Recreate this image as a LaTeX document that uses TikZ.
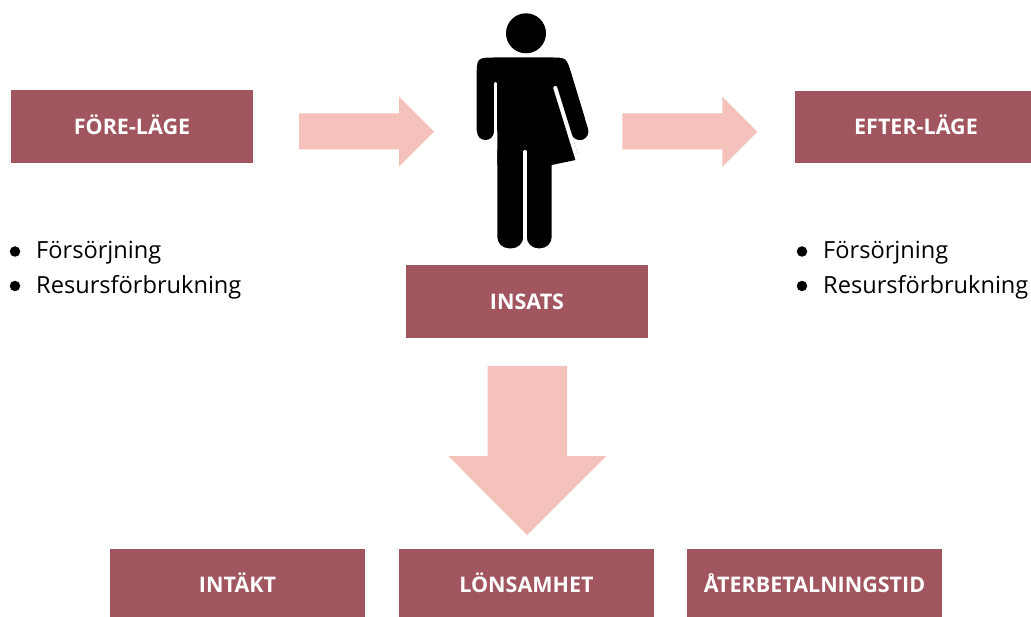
\documentclass[tikz,border=0pt]{standalone}
\usepackage{fontspec}
\setmainfont{Open Sans}
\definecolor{boxred}{RGB}{161,85,94}
\definecolor{arrowpink}{RGB}{245,193,187}
\begin{document}
\begin{tikzpicture}[x=1pt,y=-1pt,
  box/.style={fill=boxred, draw=none, inner sep=0pt, text=white,
    font=\bfseries\fontsize{21.5}{26}\selectfont, text height=15.3pt, text depth=0pt},
  bigarrow/.style={fill=arrowpink, draw=none},
  bullettext/.style={anchor=base west, inner sep=0pt, font=\fontsize{23.6}{28}\selectfont},
  dot/.style={circle, fill=black, draw=none, inner sep=0pt, minimum size=10.5pt},
  figfill/.style={fill=black},
  limb/.style={draw=black, line width=17.3pt, line cap=round},
  gap/.style={draw=white, line cap=round}]
\useasboundingbox (0,0) rectangle (1031,617);
\clip (0,0) rectangle (1031,617);

% boxes
\node[box, minimum width=242pt, minimum height=72.5pt] (fore) at (132,126.5) {FÖRE-LÄGE};
\node[box, minimum width=242pt, minimum height=72.5pt] (efter) at (916,127.2) {EFTER-LÄGE};
\node[box, minimum width=242pt, minimum height=72.5pt] (insats) at (527,301.4) {INSATS};
\node[box, minimum width=255pt, minimum height=72.5pt] (intakt) at (237.5,585.25) {INTÄKT};
\node[box, minimum width=255pt, minimum height=72.5pt] (lons) at (526.5,585.25) {LÖNSAMHET};
\node[box, minimum width=254.5pt, minimum height=72.5pt] (ater) at (814.5,585.25) {ÅTERBETALNINGSTID};

% block arrows
\fill[bigarrow] (299,113.3) -- (399,113.3) -- (399,96.7) -- (434,131.7) -- (399,166.7) -- (399,149.3) -- (299,149.3) -- cycle;
\fill[bigarrow] (622.3,113.3) -- (722.3,113.3) -- (722.3,96.7) -- (757.3,131.7) -- (722.3,166.7) -- (722.3,149.3) -- (622.3,149.3) -- cycle;
\fill[bigarrow] (487.7,366) -- (567,366) -- (567,456) -- (606.3,456) -- (527,535) -- (448.3,456) -- (487.7,456) -- cycle;

% bullet lists
\node[dot] (d1) at (15,251.5) {};
\node[bullettext] (t1) at (36,259) {Försörjning};
\node[dot] (d2) at (15,286) {};
\node[bullettext] (t2) at (36,293.3) {Resursförbrukning};
\node[dot] (d3) at (802,251.5) {};
\node[bullettext] (t3) at (823,259) {Försörjning};
\node[dot] (d4) at (802,286) {};
\node[bullettext] (t4) at (823,293.3) {Resursförbrukning};

% person figure
\fill[figfill] (526,33.3) circle (20);
\fill[figfill] (476.7,131) -- (476.7,77) .. controls (476.7,57.5) .. (496.2,57.5)
  -- (551,57.5) .. controls (566.4,57.5) .. (571.5,74) -- (588.3,130)
  -- (575.65,160) -- (551.7,165) -- (497.3,165) -- (497.3,131) -- cycle;
\fill[white] (566.6,118) -- (582.8,170) -- (600,170) -- (600,118) -- cycle;
\draw[limb] (562.3,75) -- (579.8,131.5);
\draw[limb] (485.35,82) -- (485.35,131.4);
\fill[figfill, rounded corners=11.5pt] (497.3,140) -- (497.3,248.3) -- (523.3,248.3) -- (523.3,140) -- cycle;
\fill[figfill, rounded corners=11.5pt] (526.7,140) -- (526.7,248.3) -- (551.7,248.3) -- (551.7,140) -- cycle;
\draw[gap, line width=3.3pt] (495.65,83.5) -- (495.65,150);
\draw[gap, line width=4pt] (555.3,88) -- (580.1,168);
\draw[gap, line width=3.4pt] (525,151.7) -- (525,260);
\end{tikzpicture}
\end{document}
